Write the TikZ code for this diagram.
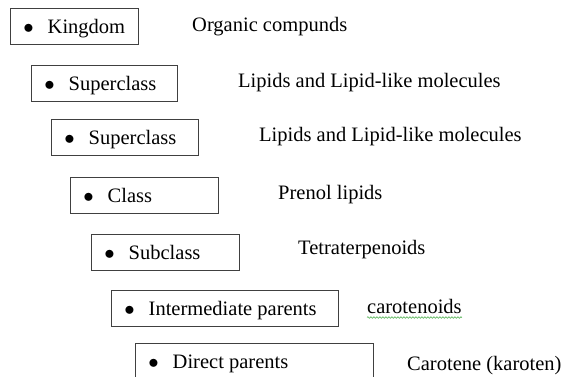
\documentclass[tikz,border=0pt]{standalone}
\usepackage{fontspec}
\setmainfont{Liberation Serif}
\usetikzlibrary{positioning,decorations.pathmorphing}

\begin{document}
\begin{tikzpicture}[
  x=1pt, y=-1pt,
  tier/.style={
    draw=black!75, line width=0.9pt, rectangle, anchor=north west,
    minimum height=36pt, inner xsep=12.9pt, text width=#1,
    text height=14pt, text depth=0pt, align=flush left,
    font=\fontsize{20.5}{24}\selectfont
  },
  taxon/.style={
    anchor=base west, inner sep=0pt,
    font=\fontsize{20.5}{24}\selectfont
  },
  squiggle/.style={
    draw=green!55!black!70, line width=0.6pt,
    decorate, decoration={snake, amplitude=0.8pt, segment length=3pt}
  }
]

\clip (0,0) rectangle (562,377);

\node[tier=102pt] (kingdom)       at (10,8)    {$\bullet$\hspace{14pt}Kingdom};
\node[tier=120pt] (superclassA)   at (31,65)   {$\bullet$\hspace{14pt}Superclass};
\node[tier=121pt] (superclassB)   at (51,119)  {$\bullet$\hspace{14pt}Superclass};
\node[tier=122pt] (class)         at (70,177)  {$\bullet$\hspace{14pt}Class};
\node[tier=122pt] (subclass)      at (91,234)  {$\bullet$\hspace{14pt}Subclass};
\node[tier=201pt] (intermediate)  at (111,290) {$\bullet$\hspace{14pt}Intermediate parents};
\node[tier=212pt] (direct)        at (135,343) {$\bullet$\hspace{14pt}Direct parents};

\node[taxon] (organic)      at (192,32)  {Organic compunds};
\node[taxon] (lipidsA)      at (238,88)  {Lipids and Lipid-like molecules};
\node[taxon] (lipidsB)      at (259,142) {Lipids and Lipid-like molecules};
\node[taxon] (prenol)       at (278,199) {Prenol lipids};
\node[taxon] (tetra)        at (298,254) {Tetraterpenoids};
\node[taxon] (carotenoids)  at (367,313) {carotenoids};
\node[taxon] (carotene)     at (407,370) {Carotene (karoten)};

\path[squiggle] ([yshift=-4.5pt]carotenoids.base west) -- ([yshift=-4.5pt]carotenoids.base east);

\end{tikzpicture}
\end{document}
